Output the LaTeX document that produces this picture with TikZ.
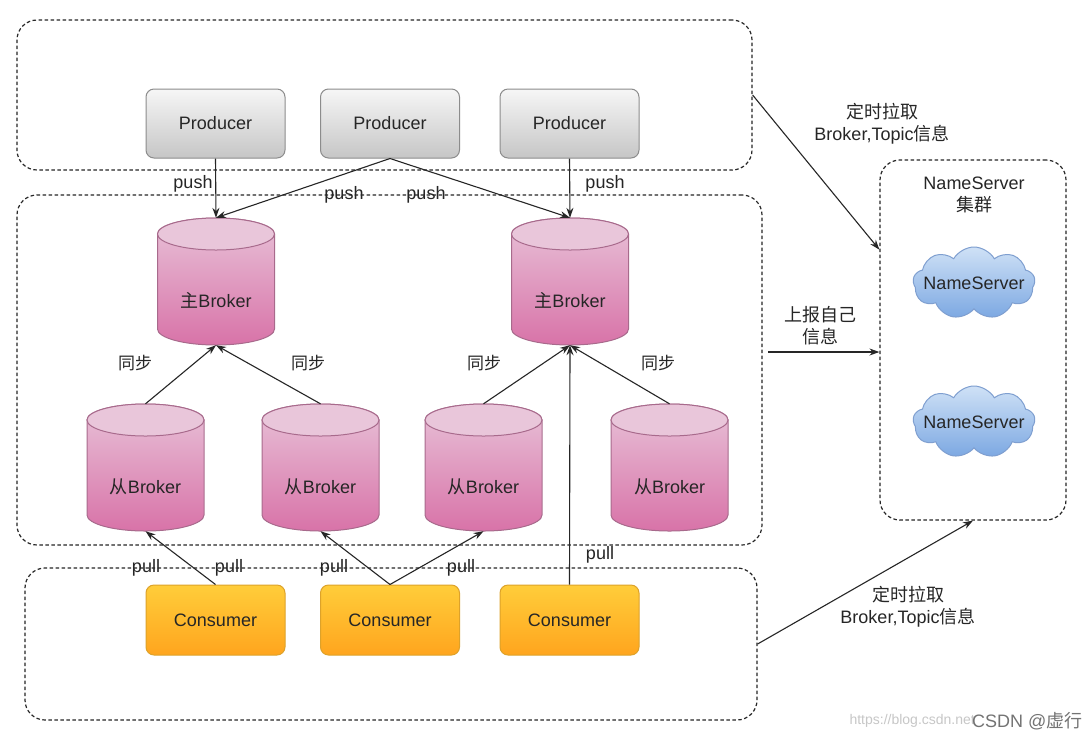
\documentclass[tikz,border=0pt]{standalone}
\usepackage{fontspec}
\setmainfont{Liberation Sans}
\newfontfamily\cjk{Noto Sans CJK SC}
\usetikzlibrary{shapes.symbols,arrows.meta,calc}
\definecolor{prodA}{HTML}{F6F6F6}
\definecolor{prodB}{HTML}{C6C6C6}
\definecolor{prodE}{HTML}{8C8C8C}
\definecolor{consA}{HTML}{FFCD3A}
\definecolor{consB}{HTML}{FFA51E}
\definecolor{consE}{HTML}{DDA22A}
\definecolor{cylA}{HTML}{E8C2D8}
\definecolor{cylB}{HTML}{D873A8}
\definecolor{cylT}{HTML}{E9C6DA}
\definecolor{cylE}{HTML}{A86A8C}
\definecolor{cloudA}{HTML}{CFE1F6}
\definecolor{cloudB}{HTML}{7CA8E2}
\definecolor{cloudE}{HTML}{7F9FD0}
\definecolor{ink}{HTML}{262626}
\newcommand\mycyl[4]{% name, centre x, top y, text
  \shade[top color=cylA, bottom color=cylB, draw=cylE, line width=1pt]
    (#2-58.5,#3+16) -- (#2-58.5,#3+111)
    arc[start angle=180, end angle=0, x radius=58.5, y radius=16]
    -- (#2+58.5,#3+16)
    arc[start angle=0, end angle=-180, x radius=58.5, y radius=16] -- cycle;
  \filldraw[fill=cylT, draw=cylE, line width=1pt] (#2,#3+16) ellipse[x radius=58.5, y radius=16];
  \node[cylnode, label={[yshift=-19pt]center:{#4}}] (#1) at (#2,#3+63.5) {};
}
\begin{document}
\begin{tikzpicture}[x=1pt,y=-1pt,
  every node/.style={font=\fontsize{18}{22}\selectfont, text=ink},
  grp/.style={draw=ink, line width=1.2pt, dash pattern=on 3.5pt off 2.5pt, rounded corners=20pt, inner sep=0pt},
  prod/.style={rectangle, rounded corners=8pt, minimum width=139pt, minimum height=69pt, top color=prodA, bottom color=prodB, draw=prodE, line width=1pt},
  cons/.style={rectangle, rounded corners=8pt, minimum width=139pt, minimum height=70pt, top color=consA, bottom color=consB, draw=consE, line width=1pt},
  cylnode/.style={rectangle, minimum width=117pt, minimum height=127pt, inner sep=0pt},
  ns/.style={cloud, cloud puffs=9, cloud puff arc=120, aspect=1.75, minimum width=122pt, minimum height=72pt, inner sep=0pt, top color=cloudA, bottom color=cloudB, draw=cloudE, line width=1pt},
  arr/.style={-{Stealth[length=10pt,width=7pt]}, line width=1.1pt, draw=ink},
  lbl/.style={align=center, inner sep=0pt}]
\useasboundingbox (0,0) rectangle (1089,740);
\fill[white] (0,0) rectangle (1089,740);

% groups
\node[grp, minimum width=735pt, minimum height=150pt] (gtop) at (384.5,95) {};
\node[grp, minimum width=745pt, minimum height=350pt] (gmid) at (389.5,370) {};
\node[grp, minimum width=732pt, minimum height=152pt] (gbot) at (391,644) {};
\node[grp, minimum width=186pt, minimum height=360pt] (gns) at (973,340) {};

% producers
\node[prod] (p1) at (215.5,123.5) {Producer};
\node[prod] (p2) at (390,123.5) {Producer};
\node[prod] (p3) at (569.5,123.5) {Producer};

% brokers
\mycyl{m1}{216}{218}{{\cjk 主}Broker}
\mycyl{m2}{570}{218}{{\cjk 主}Broker}
\mycyl{s1}{145.5}{404}{{\cjk 从}Broker}
\mycyl{s2}{320.5}{404}{{\cjk 从}Broker}
\mycyl{s3}{483.5}{404}{{\cjk 从}Broker}
\mycyl{s4}{669.5}{404}{{\cjk 从}Broker}

% consumers
\node[cons] (c1) at (215.5,620) {Consumer};
\node[cons] (c2) at (390,620) {Consumer};
\node[cons] (c3) at (569.5,620) {Consumer};

% name servers
\node[lbl] (nst) at (974,194.5) {NameServer\\{\cjk 集群}};
\node[ns, label=center:NameServer] (ns1) at (974,283) {};
\node[ns, label=center:NameServer] (ns2) at (974,422) {};

% push
\draw[arr] (p1.south) -- (m1.north);
\draw[arr] (p2.south) -- (m1.north);
\draw[arr] (p2.south) -- (m2.north);
\draw[arr] (p3.south) -- (m2.north);
\node (lpush1) at (193,184) {push};
\node (lpush2) at (344,195) {push};
\node (lpush3) at (426,195) {push};
\node (lpush4) at (605,184) {push};

% sync
\draw[arr] (s1.north) -- (m1.south);
\draw[arr] (s2.north) -- (m1.south);
\draw[arr] (s3.north) -- (m2.south);
\draw[arr] (s4.north) -- (m2.south);
\node[font=\cjk\fontsize{17}{20}\selectfont] (ls1) at (135,363) {同步};
\node[font=\cjk\fontsize{17}{20}\selectfont] (ls2) at (308,363) {同步};
\node[font=\cjk\fontsize{17}{20}\selectfont] (ls3) at (484,363) {同步};
\node[font=\cjk\fontsize{17}{20}\selectfont] (ls4) at (658,363) {同步};

% pull
\draw[arr] (c1.north) -- (s1.south);
\draw[arr] (c2.north) -- (s2.south);
\draw[arr] (c2.north) -- (s3.south);
\draw[arr] (c3.north) -- (m2.south);
\node (lpull1) at (146,568) {pull};
\node (lpull2) at (229,568) {pull};
\node (lpull3) at (334,568) {pull};
\node (lpull4) at (461,568) {pull};
\node (lpull5) at (600,555) {pull};

% to NameServer
\coordinate (a1e) at ($(gns.north west)!0.25!(gns.south west)$);
\draw[arr] (gtop.east) -- (a1e);
\node[lbl] (l1) at (882,124) {{\cjk 定时拉取}\\Broker,Topic{\cjk 信息}};
\coordinate (a2s) at (768,352);
\coordinate (a2e) at (gns.west |- a2s);
\draw[arr] (a2s) -- (a2e);
\node[lbl] (l2) at (820,325.5) {{\cjk 上报自己}\\{\cjk 信息}};
\draw[arr] (gbot.east) -- (gns.south);
\node[lbl] (l3) at (908,607) {{\cjk 定时拉取}\\Broker,Topic{\cjk 信息}};

% watermark
\node[anchor=west, text=black!22, font=\fontsize{14}{16}\selectfont] (wm1) at (846,721) {https://blog.csdn.net};
\node[anchor=east, text=black!55, font=\fontsize{18}{20}\selectfont] (wm2) at (1086,721) {CSDN @{\cjk 虚行}};
\end{tikzpicture}
\end{document}
